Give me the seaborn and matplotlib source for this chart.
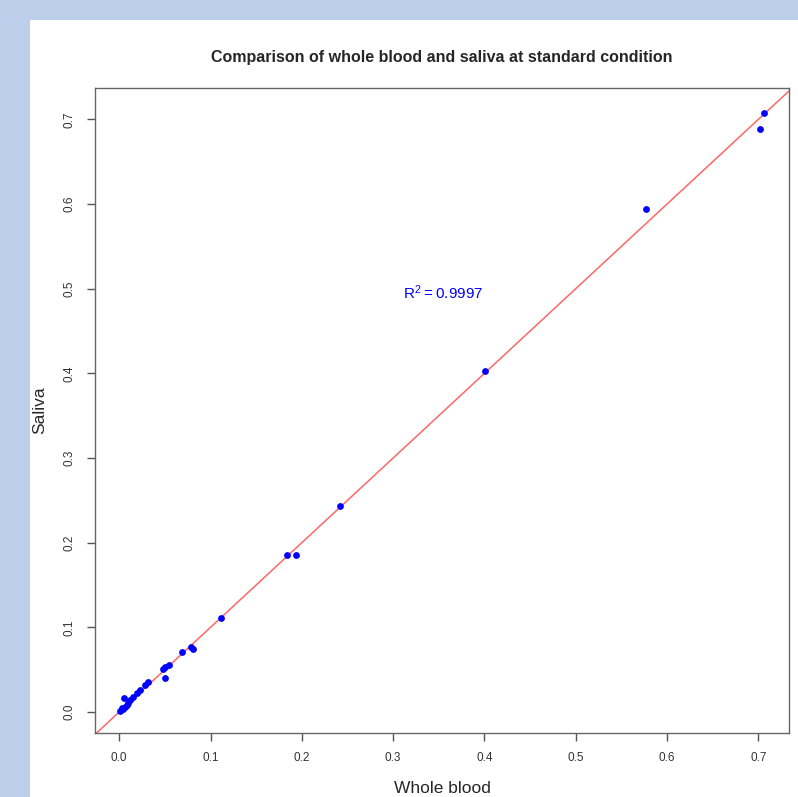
import numpy as np
import matplotlib
matplotlib.use("Agg")
import matplotlib.pyplot as plt
import pandas as pd
import seaborn as sns
from matplotlib.patches import Rectangle

# values
whole_blood = [0.706, 0.702, 0.577, 0.401, 0.242, 0.184, 0.194, 0.111,
               0.079, 0.081, 0.069, 0.050, 0.054, 0.048, 0.050, 0.032,
               0.028, 0.023, 0.020, 0.015, 0.012, 0.005, 0.003, 0.001,
               0.008, 0.010, 0.004, 0.006]
saliva = [0.708, 0.689, 0.594, 0.403, 0.243, 0.185, 0.185, 0.111,
          0.077, 0.074, 0.071, 0.053, 0.055, 0.051, 0.040, 0.035,
          0.032, 0.026, 0.022, 0.018, 0.014, 0.016, 0.005, 0.001,
          0.008, 0.011, 0.003, 0.006]
r2_label = r"$\mathregular{R^2=0.9997}$"
xticks = [0.0, 0.1, 0.2, 0.3, 0.4, 0.5, 0.6, 0.7]
yticks = [0.0, 0.1, 0.2, 0.3, 0.4, 0.5, 0.6, 0.7]

df = pd.DataFrame({"whole_blood": whole_blood, "saliva": saliva})

sns.set_style("white")
plt.rcParams['font.family'] = ['Liberation Sans', 'DejaVu Sans']

W, H = 798, 797
fig = plt.figure(figsize=(W / 100, H / 100), dpi=100)
fig.patch.set_facecolor("#bccee9")
fig.patches.append(Rectangle((30 / W, 0), 1 - 30 / W, 1 - 20 / H,
                             transform=fig.transFigure, facecolor="white",
                             edgecolor="none", zorder=-10))

ax = fig.add_axes([95 / W, 1 - 733 / H, (789 - 95) / W, (733 - 88) / H])
ax.set_facecolor("white")

lo, hi = -0.0265, 0.7335
ax.plot([lo, hi], [lo, hi], color="#ff6666", lw=1.1, zorder=1)
sns.scatterplot(data=df, x="whole_blood", y="saliva", ax=ax, color="blue",
                s=24, edgecolor="blue", linewidth=0, zorder=2)

ax.set_xlim(lo, hi)
ax.set_ylim(-0.0248, 0.737)
ax.set_xticks(xticks)
ax.set_yticks(yticks)
ax.set_xticklabels([f"{t:.1f}" for t in xticks], fontsize=8.5, color="#333333")
ax.set_yticklabels([f"{t:.1f}" for t in yticks], fontsize=8.5, color="#333333",
                   rotation=90, va="center")
ax.tick_params(axis="both", direction="out", length=6, width=1,
               color="#555555", pad=8, bottom=True, left=True)
for sp in ax.spines.values():
    sp.set_color("#666666")
    sp.set_linewidth(1)

ax.set_xlabel("Whole blood", fontsize=12.5, labelpad=12)
ax.set_ylabel("Saliva", fontsize=12.5, labelpad=12)
ax.set_title("Comparison of whole blood and saliva at standard condition",
             fontsize=11.5, fontweight="bold", pad=19)
ax.text(0.355, 0.495, r2_label, color="blue", fontsize=11, ha="center",
        va="center")

fig.savefig("out.png", dpi=100, facecolor=fig.get_facecolor())
